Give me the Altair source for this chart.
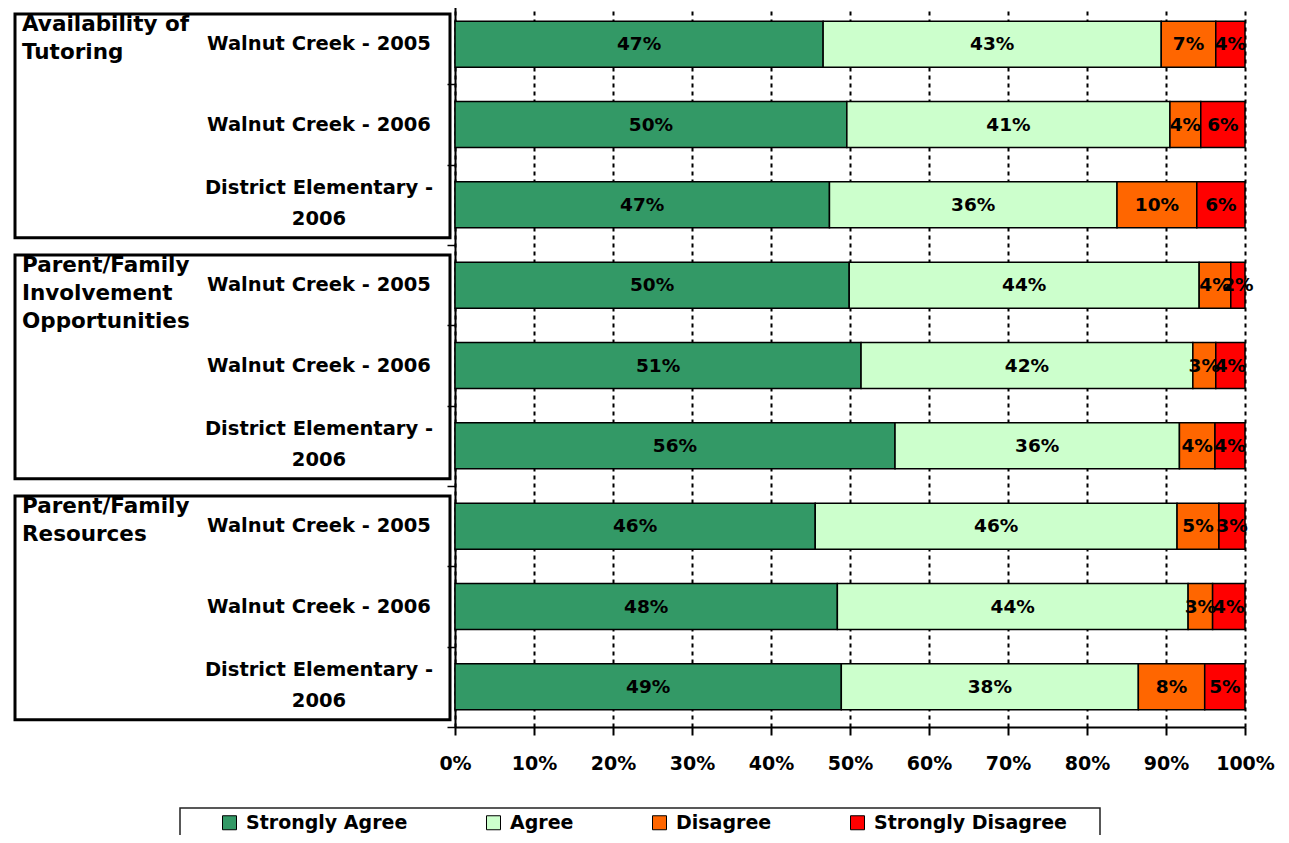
import altair as alt
import pandas as pd

# ---- data ----
group_labels = ["Availability of\nTutoring",
                "Parent/Family\nInvolvement\nOpportunities",
                "Parent/Family\nResources"]
row_labels = ["Walnut Creek - 2005", "Walnut Creek - 2006", "District Elementary -\n2006"] * 3
categories = ["Strongly Agree", "Agree", "Disagree", "Strongly Disagree"]
colors = ["#339966", "#CCFFCC", "#FF6600", "#FF0000"]

strongly_agree = [46.6, 49.6, 47.4, 49.9, 51.4, 55.7, 45.6, 48.4, 48.9]
agree = [42.8, 40.9, 36.4, 44.3, 42.0, 36.0, 45.8, 44.4, 37.6]
disagree = [6.9, 3.9, 10.1, 4.0, 2.9, 4.5, 5.3, 3.1, 8.4]
strongly_disagree = [3.7, 5.6, 6.1, 1.8, 3.7, 3.8, 3.3, 4.1, 5.1]
x_ticks = list(range(0, 101, 10))

FONT = "DejaVu Sans"

# ---- tables ----
series = [strongly_agree, agree, disagree, strongly_disagree]
recs = []
for i in range(len(row_labels)):
    start = 0.0
    for c, vals in zip(categories, series):
        v = vals[i]
        recs.append({"row": i, "cat": c, "start": start, "end": start + v,
                     "mid": start + v / 2, "label": f"{round(v)}%",
                     "y0": i - 0.286, "y1": i + 0.286})
        start += v
bars_df = pd.DataFrame(recs)
rows_df = pd.DataFrame({"row": list(range(len(row_labels))), "name": row_labels})
rows_df["ly"] = rows_df["row"] - rows_df["name"].str.count("\n") * 0.215
groups_df = pd.DataFrame({"g": [0, 1, 2], "name": group_labels})
groups_df["top"] = groups_df["g"] * 3 - 0.376
groups_df["bottom"] = groups_df["g"] * 3 + 2.41
groups_df["ltop"] = groups_df["g"] * 3 - 0.37

yscale = alt.Scale(domain=[-0.5, 8.5], reverse=True, nice=False, zero=False)
xscale = alt.Scale(domain=[0, 100], nice=False)

xaxis = alt.Axis(values=x_ticks, labelExpr="datum.value + '%'", title=None,
                 grid=True, gridColor="black", gridDash=[4, 4], gridWidth=2,
                 gridOpacity=1, labelOverlap=False, labelFlush=False,
                 domainColor="black", domainWidth=2, tickColor="black",
                 tickWidth=2, tickSize=8, labelFont=FONT, labelFontSize=19,
                 labelFontWeight="bold", labelColor="black", labelPadding=19)
yaxis = alt.Axis(values=[i - 0.5 for i in range(10)], labels=False, title=None,
                 grid=False, domainColor="black", domainWidth=2,
                 tickColor="black", tickWidth=1.5, tickSize=8)

bars = alt.Chart(bars_df).mark_rect(stroke="black", strokeWidth=1.5).encode(
    x=alt.X("start:Q", scale=xscale, axis=xaxis),
    x2="end:Q",
    y=alt.Y("y0:Q", scale=yscale, axis=yaxis),
    y2="y1:Q",
    fill=alt.Fill("cat:N", scale=alt.Scale(domain=categories, range=colors),
                  legend=alt.Legend(orient="none", legendX=-235, legendY=809,
                                    direction="horizontal", columns=4, columnPadding=76,
                                    symbolType="square", symbolSize=196,
                                    symbolStrokeColor="black", symbolStrokeWidth=1,
                                    symbolOpacity=1, labelLimit=400,
                                    labelFont=FONT, labelFontSize=19, labelFontWeight="bold",
                                    labelColor="black", labelOffset=7, title=None,
                                    padding=0)),
)

bar_text = alt.Chart(bars_df).mark_text(font=FONT, fontSize=18.5, fontWeight="bold",
                                        color="black", align="center",
                                        baseline="middle").encode(
    x=alt.X("mid:Q", scale=xscale, axis=xaxis),
    y=alt.Y("row:Q", scale=yscale, axis=yaxis),
    text="label:N",
)

row_text = alt.Chart(rows_df).mark_text(font=FONT, fontSize=19.5, fontWeight="bold",
                                        color="black", align="center", baseline="middle",
                                        lineBreak="\n", lineHeight=31).encode(
    x=alt.value(-136),
    y=alt.Y("ly:Q", scale=yscale, axis=yaxis),
    text="name:N",
)

group_text = alt.Chart(groups_df).mark_text(font=FONT, fontSize=21.5, fontWeight="bold",
                                            color="black", align="left", baseline="top",
                                            lineBreak="\n", lineHeight=28).encode(
    x=alt.value(-433),
    y=alt.Y("ltop:Q", scale=yscale, axis=yaxis),
    text="name:N",
)

group_box = alt.Chart(groups_df).mark_rect(filled=False, stroke="black",
                                           strokeWidth=3).encode(
    x=alt.value(-440), x2=alt.value(-5),
    y=alt.Y("top:Q", scale=yscale, axis=yaxis),
    y2="bottom:Q",
)

legend_box = alt.Chart(pd.DataFrame({"k": [0]})).mark_rect(
    filled=False, stroke="#222222", strokeWidth=1.5).encode(
    x=alt.value(-275), x2=alt.value(645), y=alt.value(804), y2=alt.value(860)
)

chart = alt.layer(group_box, legend_box, bars, bar_text, row_text, group_text).properties(
    width=790, height=723,
    autosize=alt.AutoSizeParams(type="none"),
    padding={"left": 447, "top": -4, "right": 34, "bottom": 108},
).configure_view(strokeWidth=0)

chart.save("out.html", embed_options={"renderer": "svg", "actions": False})
